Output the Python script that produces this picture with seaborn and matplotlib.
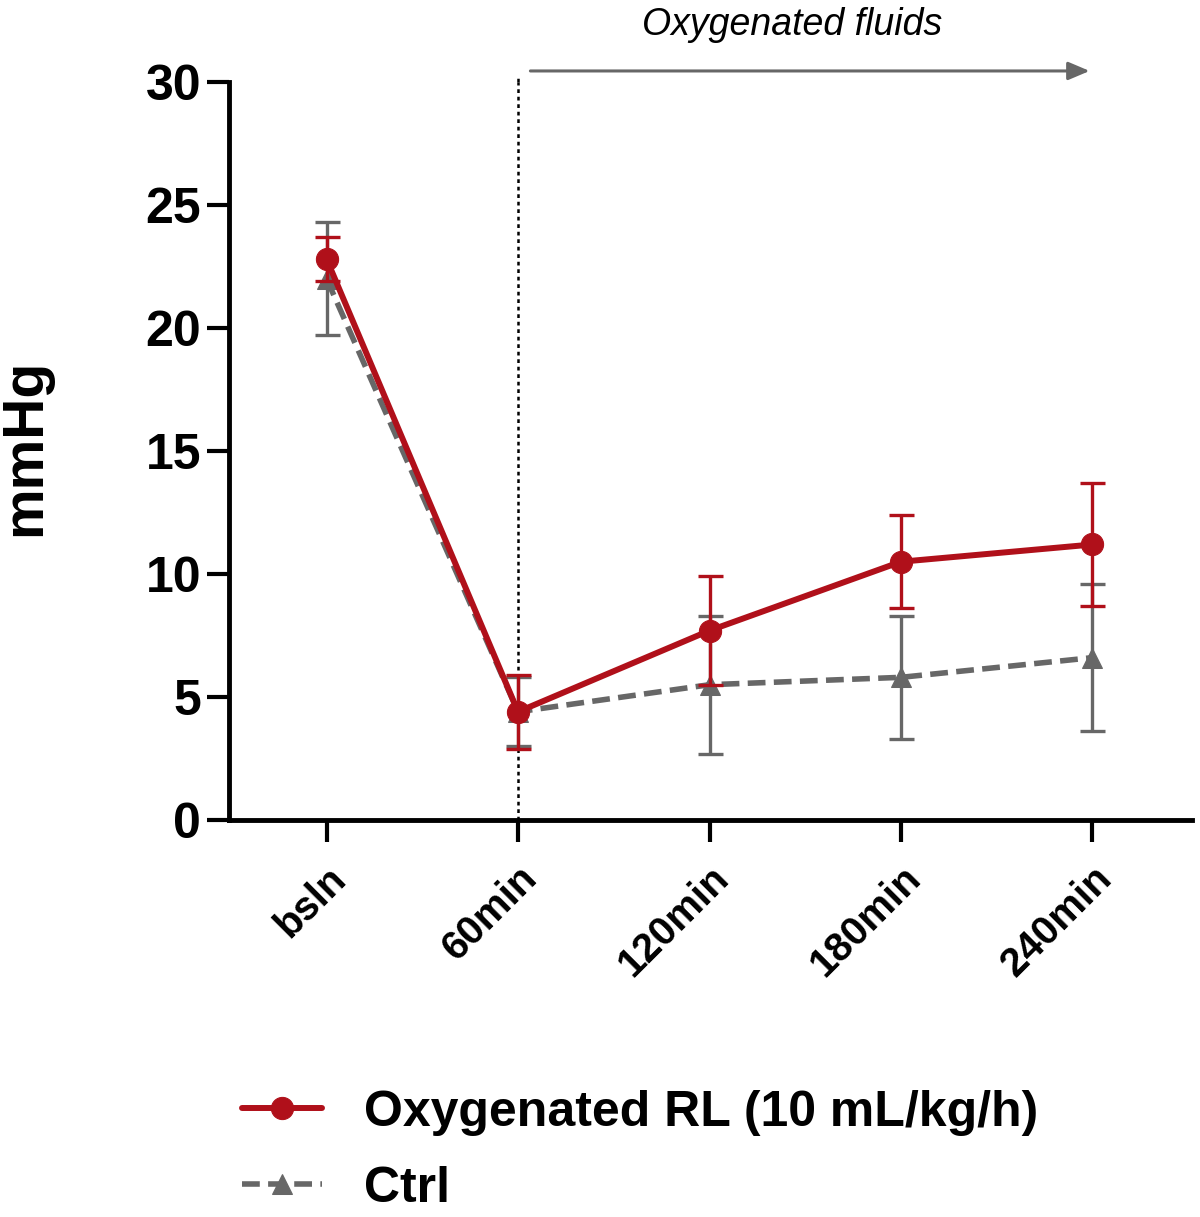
import numpy as np
import pandas as pd
import matplotlib
matplotlib.use("Agg")
import matplotlib.pyplot as plt
import seaborn as sns

# Data
timepoints = ["bsln", "60min", "120min", "180min", "240min"]
rl_mean = [22.8, 4.4, 7.7, 10.5, 11.2]
rl_err = [0.9, 1.5, 2.2, 1.9, 2.5]
ctrl_mean = [22.0, 4.4, 5.5, 5.8, 6.6]
ctrl_err = [2.3, 1.4, 2.8, 2.5, 3.0]

red = "#b0101a"
gray = "#676767"

sns.set_style("ticks")
plt.rcParams['font.family'] = ['Liberation Sans', 'DejaVu Sans']
for k in ["text.color", "axes.labelcolor", "xtick.color", "ytick.color", "axes.edgecolor"]:
    plt.rcParams[k] = "black"

df = pd.DataFrame({
    "pos": list(range(len(timepoints))) * 2,
    "value": rl_mean + ctrl_mean,
    "group": ["Oxygenated RL (10 mL/kg/h)"] * 5 + ["Ctrl"] * 5,
})

fig = plt.figure(figsize=(12, 12.17), dpi=100)
ax = fig.add_axes([0.1908, 0.3262, 0.8025, 0.6064])

x = np.arange(len(timepoints))

# control first, then RL on top
ax.errorbar(x, ctrl_mean, yerr=ctrl_err, fmt="none", ecolor=gray,
            elinewidth=2.4, capsize=9, capthick=2.4, zorder=2)
sns.lineplot(data=df[df.group == "Ctrl"], x="pos", y="value", ax=ax,
             color=gray, linewidth=4, linestyle=(0, (3.2, 1.5)), marker="^",
             markersize=14, markeredgecolor=gray, zorder=3, label="Ctrl")
ax.errorbar(x, rl_mean, yerr=rl_err, fmt="none", ecolor=red,
            elinewidth=2.4, capsize=9, capthick=2.4, zorder=4)
sns.lineplot(data=df[df.group != "Ctrl"], x="pos", y="value", ax=ax,
             color=red, linewidth=4.3, marker="o", markersize=16,
             markeredgecolor=red, zorder=5, label="Oxygenated RL (10 mL/kg/h)")

ax.set_xlim(-0.51, 4.52)
ax.set_ylim(0, 30)
ax.set_yticks([0, 5, 10, 15, 20, 25, 30])
ax.set_xticks(x)
ax.set_xticklabels(timepoints, rotation=45, ha="right", rotation_mode="anchor",
                   fontsize=29, fontweight="bold")
for lab in ax.get_yticklabels():
    lab.set_fontsize(36)
    lab.set_fontweight("bold")
ax.set_xlabel("")
ax.set_ylabel("mmHg", fontsize=41, fontweight="bold")
ax.yaxis.set_label_coords(-0.184, 0.505)
ax.tick_params(axis="y", length=16, width=3, pad=4)
ax.tick_params(axis="x", length=16, width=3, pad=12)
for s in ["left", "bottom"]:
    ax.spines[s].set_linewidth(3.5)
sns.despine(ax=ax)

# dotted line at start of treatment, and arrow
ax.axvline(1, ymin=0, ymax=1.0, color="black", linestyle=(0, (1.5, 1.5)),
           linewidth=1.8, clip_on=False, zorder=1)
ax.plot([1, 1], [30, 30.2], color="black", linestyle=(0, (1.5, 1.5)),
        linewidth=1.8, clip_on=False)
ax.annotate("", xy=(4.0, 30.45), xytext=(1.05, 30.45), xycoords="data",
            arrowprops=dict(arrowstyle="-|>,head_length=1.3,head_width=0.55",
                            color=gray, linewidth=2.2),
            annotation_clip=False)
ax.text(2.43, 32.3, "Oxygenated fluids", fontsize=27, style="italic",
        ha="center", va="center", clip_on=False)

ax.get_legend().remove()
h, l = ax.get_legend_handles_labels()
fig.legend(h[::-1], l[::-1], loc="upper left", bbox_to_anchor=(0.185, 0.121),
           frameon=False, handlelength=1.6, borderaxespad=0,
           labelspacing=0.6, handletextpad=0.85,
           prop={"weight": "bold", "size": 36})

fig.savefig("out.png", dpi=100)
